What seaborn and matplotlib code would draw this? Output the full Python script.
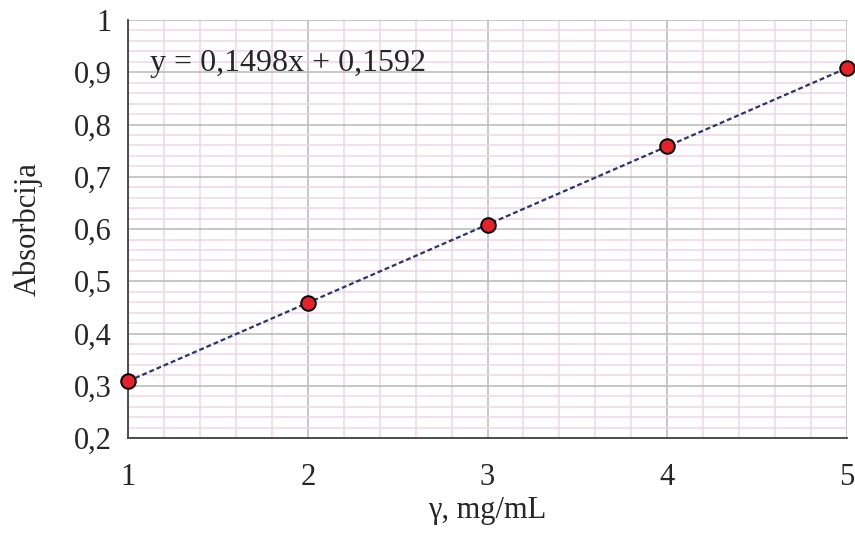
import numpy as np
import pandas as pd
import matplotlib
matplotlib.use("Agg")
import matplotlib.pyplot as plt
from matplotlib.ticker import MultipleLocator, FuncFormatter
import seaborn as sns

# podaci
koncentracija = [1, 2, 3, 4, 5]
absorbcija = [0.309, 0.459, 0.608, 0.759, 0.908]
nagib = 0.1498
odsjecak = 0.1592

sns.set_style("white")
plt.rcParams['font.family'] = ['Liberation Serif', 'DejaVu Serif']

df = pd.DataFrame({"x": koncentracija, "y": absorbcija})
fit = pd.DataFrame({"x": koncentracija})
fit["y"] = nagib * fit["x"] + odsjecak

fig = plt.figure(figsize=(8.55, 5.33), dpi=100)
ax = fig.add_axes([0.1497, 0.178, 0.841, 0.7845])

# linija trenda
sns.lineplot(data=fit, x="x", y="y", ax=ax, color="#283470", lw=1.6,
             linestyle=(0, (2.2, 1.3)), zorder=3)
# tocke
sns.scatterplot(data=df, x="x", y="y", ax=ax, color="#e8202a", edgecolor="black",
                linewidth=1.4, s=110, zorder=4, clip_on=False)

ax.set_xlim(1, 5)
ax.set_ylim(0.2, 1.0)
ax.xaxis.set_major_locator(MultipleLocator(1))
ax.xaxis.set_minor_locator(MultipleLocator(0.2))
ax.yaxis.set_major_locator(MultipleLocator(0.1))
ax.yaxis.set_minor_locator(MultipleLocator(0.02))

def zarez(v, pos):
    s = f"{v:.1f}".rstrip("0").rstrip(".")
    return s.replace(".", ",")

ax.yaxis.set_major_formatter(FuncFormatter(zarez))
ax.xaxis.set_major_formatter(FuncFormatter(lambda v, p: f"{v:.0f}"))

ax.grid(which="minor", color="#efd6e6", lw=1.1)
ax.grid(which="major", color="#bdbdbd", lw=1.2)
ax.set_axisbelow(True)

for s in ["top", "right"]:
    ax.spines[s].set_visible(False)
for s in ["left", "bottom"]:
    ax.spines[s].set_color("#404040")
    ax.spines[s].set_linewidth(1.3)

ax.tick_params(axis="both", which="major", direction="out", length=6, width=1.3,
               color="#404040", labelsize=22, pad=6)
ax.tick_params(axis="both", which="minor", length=0)
ax.tick_params(axis="x", pad=12)

ax.set_xlabel("γ, mg/mL", fontsize=22, labelpad=3)
ax.set_ylabel("Absorbcija", fontsize=22, labelpad=22)

ax.text(0.031, 0.897, f"y = {nagib:.4f}x + {odsjecak:.4f}".replace(".", ","),
        transform=ax.transAxes, fontsize=23, va="center", ha="left")

plt.savefig("out.png", dpi=100)
